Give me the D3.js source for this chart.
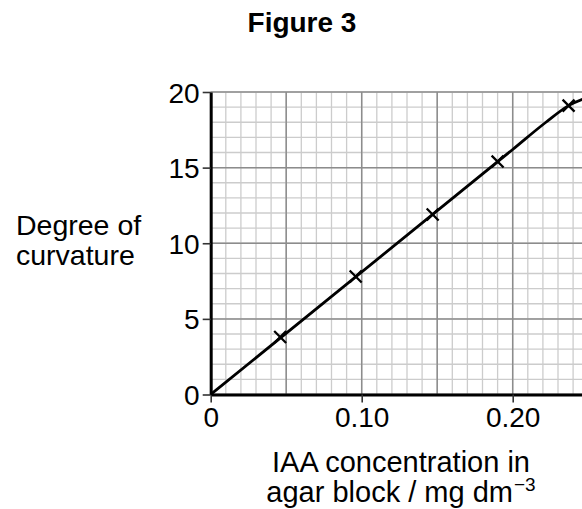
<!DOCTYPE html>
<html>
<head>
<meta charset="utf-8">
<script src="https://cdn.jsdelivr.net/npm/d3@7"></script>
<style>
  body { margin: 0; background: #fff; }
  svg { display: block; font-family: "Liberation Sans", Arial, sans-serif; }
</style>
</head>
<body>
<svg></svg>
<script>
var width = 582;
var height = 509;

// measured points (crosses)
var concentration = [0.046, 0.096, 0.147, 0.190, 0.237];
var curvature = [3.8, 7.8, 11.9, 15.4, 19.1];

// line of best fit, bends over at the top end
var fitX = [0, 0.20, 0.222, 0.237, 0.25];
var fitY = [0, 16.2, 18.0, 19.1, 19.65];

var xTicks = [0, 0.10, 0.20];
var xTickLabels = ["0", "0.10", "0.20"];
var yTicks = [0, 5, 10, 15, 20];

var svg = d3.select("svg")
            .attr("width", width)
            .attr("height", height);

var xScale = d3.scaleLinear()
            .domain([0, 0.25])
            .range([210.7, 210.7 + 0.25 * 1510]);

var yScale = d3.scaleLinear()
            .domain([0, 20])
            .range([394.5, 92]);

// graph paper: light minor lines, then darker major lines
var grid = svg.append("g");

grid.selectAll(".minor-x")
    .data(xScale.ticks(25))
    .enter()
    .append("line")
        .attr("x1", d => xScale(d))
        .attr("x2", d => xScale(d))
        .attr("y1", yScale(0))
        .attr("y2", yScale(20))
        .attr("stroke", "#cccccc")
        .attr("stroke-width", 1.3);

grid.selectAll(".minor-y")
    .data(yScale.ticks(20))
    .enter()
    .append("line")
        .attr("x1", xScale(0))
        .attr("x2", width)
        .attr("y1", d => yScale(d))
        .attr("y2", d => yScale(d))
        .attr("stroke", "#cccccc")
        .attr("stroke-width", 1.3);

grid.selectAll(".major-x")
    .data(xScale.ticks(5))
    .enter()
    .append("line")
        .attr("x1", d => xScale(d))
        .attr("x2", d => xScale(d))
        .attr("y1", yScale(0))
        .attr("y2", yScale(20))
        .attr("stroke", "#8c8c8c")
        .attr("stroke-width", 1.5);

grid.selectAll(".major-y")
    .data(yScale.ticks(4))
    .enter()
    .append("line")
        .attr("x1", xScale(0))
        .attr("x2", width)
        .attr("y1", d => yScale(d))
        .attr("y2", d => yScale(d))
        .attr("stroke", "#8c8c8c")
        .attr("stroke-width", 1.5);

// axes
var xAxis = d3.axisBottom(xScale)
            .tickValues(xTicks)
            .tickFormat((d, i) => xTickLabels[i])
            .tickSize(8)
            .tickSizeOuter(0)
            .tickPadding(5);

var yAxis = d3.axisLeft(yScale)
            .tickValues(yTicks)
            .tickSize(8)
            .tickSizeOuter(0)
            .tickPadding(3);

var gx = svg.append("g")
        .attr("transform", `translate(0,${yScale(0)})`)
        .call(xAxis);

var gy = svg.append("g")
        .attr("transform", `translate(${xScale(0)},0)`)
        .call(yAxis);

[gx, gy].forEach(function (g) {
    g.select(".domain").attr("stroke", "#000").attr("stroke-width", 3);
    g.selectAll(".tick line").attr("stroke", "#333").attr("stroke-width", 1.6);
    g.selectAll(".tick text")
        .attr("fill", "#000")
        .style("font-size", "28px")
        .style("font-family", "'Liberation Sans', Arial, sans-serif");
});

gy.selectAll(".tick text").attr("dy", "0.36em");

// fitted line
var line = d3.line()
            .x(d => xScale(d[0]))
            .y(d => yScale(d[1]))
            .curve(d3.curveMonotoneX);

svg.append("path")
    .datum(d3.zip(fitX, fitY))
    .attr("d", line)
    .attr("fill", "none")
    .attr("stroke", "#000")
    .attr("stroke-width", 2.8);

// crosses
svg.selectAll(".point")
    .data(d3.zip(concentration, curvature))
    .enter()
    .append("path")
        .attr("transform", d => `translate(${xScale(d[0])},${yScale(d[1])})`)
        .attr("d", d3.symbol().type(d3.symbolTimes).size(95))
        .attr("fill", "none")
        .attr("stroke", "#000")
        .attr("stroke-width", 2.3);

// titles
svg.append("text")
    .attr("x", 302)
    .attr("y", 32)
    .style("text-anchor", "middle")
    .style("font-size", "28px")
    .style("font-weight", "bold")
    .text("Figure 3");

var yLabel = svg.append("text")
    .attr("x", 16)
    .attr("y", 235)
    .style("font-size", "28.5px");
yLabel.append("tspan").attr("x", 16).text("Degree of");
yLabel.append("tspan").attr("x", 16).attr("dy", 30).text("curvature");

// bottom label, second line carries the superscript
svg.append("text")
    .attr("x", 401)
    .attr("y", 472)
    .style("text-anchor", "middle")
    .style("font-size", "29px")
    .text("IAA concentration in");

var xLabel2 = svg.append("text")
    .attr("x", 401)
    .attr("y", 502)
    .style("text-anchor", "middle")
    .style("font-size", "29px");
xLabel2.append("tspan").text("agar block / mg dm");
xLabel2.append("tspan")
    .attr("dy", -11)
    .attr("dx", 1)
    .style("font-size", "19px")
    .text("\u22123");
</script>
</body>
</html>
